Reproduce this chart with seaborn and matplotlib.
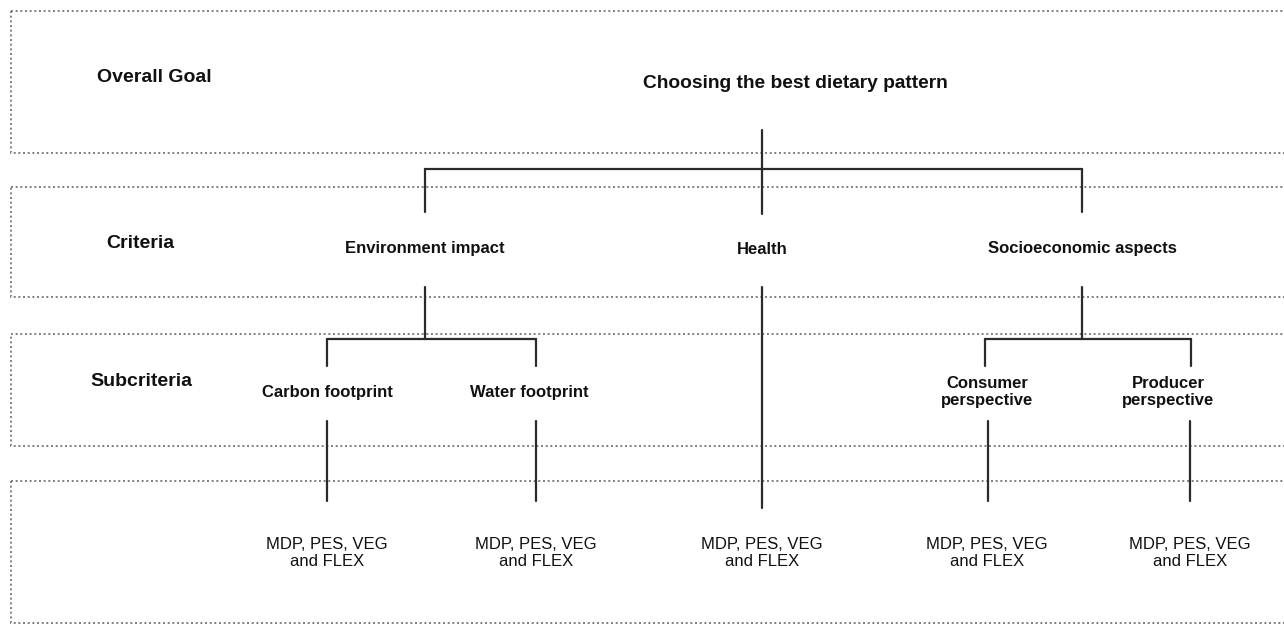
import matplotlib
matplotlib.use("Agg")
import matplotlib.pyplot as plt
import matplotlib.patches as mpatches
import numpy as np
import pandas as pd
import seaborn as sns

# Hierarchy content
level_names = ["Overall Goal", "Criteria", "Subcriteria"]
goal = "Choosing the best dietary pattern"
criteria = ["Environment impact", "Health", "Socioeconomic aspects"]
subcriteria = ["Carbon footprint", "Water footprint", "Consumer\nperspective", "Producer\nperspective"]
sub_parent = [0, 0, 2, 2]
alternatives = "MDP, PES, VEG\nand FLEX"

# Layout (pixel space, y grows downward)
W, H = 1284, 627
band_top = [11, 187, 334, 481]
band_bot = [153, 297, 446, 623]
level_x = [97, 106, 90]
level_y = [77, 243, 382]
goal_xy = (795, 83)
crit_x = [425, 762, 1082]
crit_y = 249
sub_x = [327, 536, 985, 1191]
sub_text_x = [327, 529, 987, 1168]
sub_y = 392
leaf_x = [327, 536, 762, 987, 1190]
leaf_y = 553

sns.set_theme(style="white")
plt.rcParams["font.family"] = ["Liberation Sans", "DejaVu Sans"]

fig = plt.figure(figsize=(W / 100, H / 100), dpi=100)
ax = fig.add_axes([0, 0, 1, 1])

# dotted bands (right side runs off the canvas)
for t, b in zip(band_top, band_bot):
    ax.add_patch(mpatches.Rectangle((11, t), W + 10, b - t, fill=False,
                                    edgecolor="#7f7f7f", lw=1.4,
                                    linestyle=(0, (1, 1.4))))

# connector segments
segs = []
def seg(x0, y0, x1, y1):
    segs.append([(x0, y0), (x1, y1)])

seg(crit_x[1], 130, crit_x[1], 214)
seg(crit_x[0], 169, crit_x[2], 169)
seg(crit_x[0], 169, crit_x[0], 212)
seg(crit_x[2], 169, crit_x[2], 212)

for ci in [0, 2]:
    kids = [sub_x[i] for i in range(len(subcriteria)) if sub_parent[i] == ci]
    seg(crit_x[ci], 287, crit_x[ci], 339)
    seg(min(kids), 339, max(kids), 339)
    for kx in kids:
        seg(kx, 339, kx, 366)
seg(crit_x[1], 287, crit_x[1], 508)
for kx in [327, 536, 988, 1190]:
    seg(kx, 421, kx, 501)

rows = []
for i, s in enumerate(segs):
    for k, (x, y) in enumerate(s):
        rows.append({"seg": i, "order": k, "x": x, "y": y})
df = pd.DataFrame(rows)
sns.lineplot(data=df, x="x", y="y", units="seg", estimator=None, sort=False,
             color="#2b2b2b", lw=1.6, ax=ax, legend=False)

# texts
for name, x, y in zip(level_names, level_x, level_y):
    ax.text(x, y, name, ha="left", va="center", fontsize=14, fontweight="bold", color="#111111")
ax.text(goal_xy[0], goal_xy[1], goal, ha="center", va="center", fontsize=13.8,
        fontweight="bold", color="#111111")
for name, x in zip(criteria, crit_x):
    ax.text(x, crit_y, name, ha="center", va="center", fontsize=12, fontweight="bold", color="#111111")
for name, x in zip(subcriteria, sub_text_x):
    ax.text(x, sub_y, name, ha="center", va="center", fontsize=12, fontweight="bold",
            color="#111111", linespacing=1.2)
for x in leaf_x:
    ax.text(x, leaf_y, alternatives, ha="center", va="center", fontsize=12,
            color="#111111", linespacing=1.2)

ax.set_xlim(0, W)
ax.set_ylim(H, 0)
ax.set_xlabel("")
ax.set_ylabel("")
ax.axis("off")

fig.savefig("out.png", dpi=100, facecolor="white")
